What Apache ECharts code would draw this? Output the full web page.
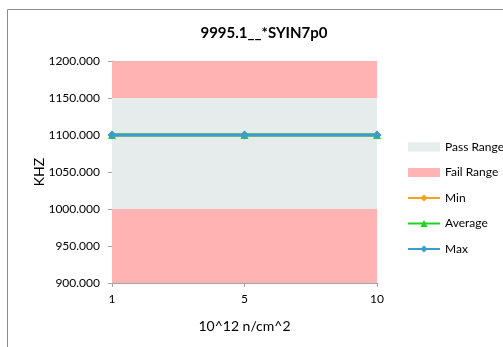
<!DOCTYPE html>
<html><head><meta charset="utf-8">
<script src="https://cdn.jsdelivr.net/npm/echarts@6/dist/echarts.min.js"></script>
<style>html,body{margin:0;padding:0;background:#fff}#c{width:503px;height:347px}</style>
</head><body><div id="c"></div>
<script>
var categories = ['1', '5', '10'];
var minValues = [1100, 1100, 1100];
var avgValues = [1100, 1100, 1100];
var maxValues = [1100, 1100, 1100];
var passRange = [1000, 1150];
var failLow = [900, 1000];
var failHigh = [1150, 1200];
var yMin = 900, yMax = 1200, yStep = 50;

var font = 'Lato, "Liberation Sans", sans-serif';
var chart = echarts.init(document.getElementById('c'), null, {renderer: 'canvas'});
var PASS = '#e6ebeb', FAIL = '#ffb3b3';
chart.setOption({
  animation: false,
  title: {text: '9995.1__*SYIN7p0', left: 259, textAlign: 'center', top: 21,
    textStyle: {fontFamily: font, fontSize: 15, fontWeight: 'bold', color: '#000'}},
  graphic: [{type: 'rect', shape: {x: 7.5, y: 9.5, width: 700, height: 500},
    style: {fill: 'none', stroke: '#8c8c8c', lineWidth: 1}, silent: true, z: 100}],
  grid: {left: 112, right: 126, top: 61, bottom: 64, containLabel: false},
  legend: {
    orient: 'vertical', left: 402, top: 135, itemWidth: 32, itemHeight: 9, itemGap: 11.5,
    textStyle: {fontFamily: font, fontSize: 12, color: '#000', lineHeight: 14},
    data: [
      {name: 'Pass Range', icon: 'rect'},
      {name: 'Fail Range', icon: 'rect'},
      {name: 'Min'}, {name: 'Average'}, {name: 'Max'}
    ]
  },
  xAxis: {
    type: 'category', data: categories, boundaryGap: false,
    name: '10^12 n/cm^2', nameLocation: 'middle', nameGap: 36, nameMoveOverlap: false,
    nameTextStyle: {fontFamily: font, fontSize: 14, color: '#000'},
    axisLine: {lineStyle: {color: '#a6a6a6'}},
    axisTick: {show: true, length: 4, lineStyle: {color: '#a6a6a6'}},
    axisLabel: {fontFamily: font, fontSize: 12, color: '#000', margin: 10},
    splitLine: {show: false}
  },
  yAxis: {
    type: 'value', min: yMin, max: yMax, interval: yStep,
    name: 'KHZ', nameLocation: 'middle', nameGap: 66, nameRotate: 90, nameMoveOverlap: false,
    nameTextStyle: {fontFamily: font, fontSize: 14, color: '#000'},
    axisLine: {show: true, lineStyle: {color: '#a6a6a6'}},
    axisTick: {show: true, length: 4, lineStyle: {color: '#a6a6a6'}},
    axisLabel: {fontFamily: font, fontSize: 12, color: '#000', margin: 12,
      formatter: function (v) { return v.toFixed(3); }},
    splitLine: {show: false}
  },
  series: [
    {name: 'Pass Range', type: 'line', data: [], itemStyle: {color: PASS}, lineStyle: {color: PASS},
      markArea: {silent: true, itemStyle: {color: PASS}, data: [[{yAxis: passRange[0]}, {yAxis: passRange[1]}]]}},
    {name: 'Fail Range', type: 'line', data: [], itemStyle: {color: FAIL}, lineStyle: {color: FAIL},
      markArea: {silent: true, itemStyle: {color: FAIL}, data: [
        [{yAxis: failLow[0]}, {yAxis: failLow[1]}],
        [{yAxis: failHigh[0]}, {yAxis: failHigh[1]}]]}},
    {name: 'Min', type: 'line', data: minValues, symbol: 'diamond', symbolSize: 8,
      itemStyle: {color: '#f7a11a'}, lineStyle: {color: '#f7a11a', width: 3}},
    {name: 'Average', type: 'line', data: avgValues, symbol: 'triangle', symbolSize: 8,
      itemStyle: {color: '#1ed51e'}, lineStyle: {color: '#1ed51e', width: 3}},
    {name: 'Max', type: 'line', data: maxValues, symbol: 'diamond', symbolSize: 9,
      itemStyle: {color: '#3c9ccb'}, lineStyle: {color: '#3c9ccb', width: 3}}
  ]
});
</script></body></html>
